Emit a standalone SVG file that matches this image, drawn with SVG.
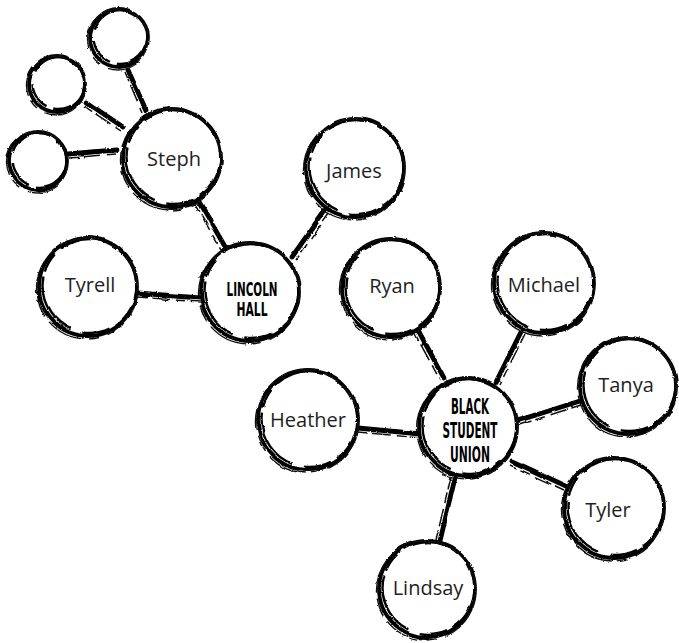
<svg xmlns="http://www.w3.org/2000/svg" width="679" height="643" viewBox="0 0 679 643">
<defs>
<filter id="rough" x="-10%" y="-10%" width="120%" height="120%">
<feTurbulence type="fractalNoise" baseFrequency="0.045" numOctaves="2" seed="3" result="n1"/>
<feDisplacementMap in="SourceGraphic" in2="n1" scale="3" xChannelSelector="R" yChannelSelector="G" result="d1"/>
<feTurbulence type="fractalNoise" baseFrequency="0.8" numOctaves="1" seed="7" result="n2"/>
<feDisplacementMap in="d1" in2="n2" scale="2.4" xChannelSelector="R" yChannelSelector="G"/>
</filter>
<style>
.ink{filter:url(#rough)}
.r1{fill:#fff;stroke:#000;stroke-width:3.8}
.r2{fill:none;stroke:#000;stroke-width:2.4;stroke-dasharray:46 7 28 12 64 5 20 9}
.r3{fill:none;stroke:#111;stroke-width:1.4;stroke-dasharray:18 6 34 9 10 5 40 7}
.c1{fill:none;stroke:#000;stroke-width:4.8;stroke-linecap:round}
.c2{fill:none;stroke:#111;stroke-width:1.5;stroke-dasharray:10 4 18 6}
.name{font-family:"Open Sans","Noto Sans","Liberation Sans",sans-serif;font-weight:400;font-size:20px;fill:#1e1e1e;text-anchor:middle}
.hub{font-family:"DejaVu Sans Condensed","DejaVu Sans","Liberation Sans",sans-serif;font-weight:bold;font-size:19px;fill:#000;text-anchor:middle}
</style>
</defs>
<rect width="679" height="643" fill="#fff"/>
<g id="connectors" class="ink">
<path class="c1" d="M128,70 L146,110"/><path class="c2" d="M125,72 L142,112"/>
<path class="c1" d="M86,102 L123,127"/><path class="c2" d="M84,106 L121,131"/>
<path class="c1" d="M68,154 L116,150"/><path class="c2" d="M69,158 L116,154"/>
<path class="c1" d="M198,200 L227,250"/><path class="c2" d="M194,202 L222,252"/>
<path class="c1" d="M325,210 L292,257"/><path class="c2" d="M329,213 L296,260"/>
<path class="c1" d="M138,293 L200,298"/><path class="c2" d="M138,297 L200,302"/>
<path class="c1" d="M418,330 L444,378"/><path class="c2" d="M414,332 L440,380"/>
<path class="c1" d="M521,332 L496,382"/><path class="c2" d="M525,334 L500,384"/>
<path class="c1" d="M580,401 L514,422"/><path class="c2" d="M581,405 L516,426"/>
<path class="c1" d="M358,428 L420,434"/><path class="c2" d="M358,432 L420,438"/>
<path class="c1" d="M566,486 L512,461"/><path class="c2" d="M564,490 L510,465"/>
<path class="c1" d="M440,541 L455,478"/><path class="c2" d="M436,540 L451,477"/>
</g>
<g id="node-small-top" class="ink"><circle class="r1" cx="119" cy="38" r="29"/><circle class="r2" cx="120.5" cy="37" r="27"/><circle class="r3" cx="118" cy="39.5" r="30.5"/></g>
<g id="node-small-mid" class="ink"><circle class="r1" cx="57" cy="84" r="28"/><circle class="r2" cx="58.5" cy="83" r="26"/><circle class="r3" cx="56" cy="85.5" r="29.5"/></g>
<g id="node-small-low" class="ink"><circle class="r1" cx="38" cy="161" r="29"/><circle class="r2" cx="39.5" cy="160" r="27"/><circle class="r3" cx="37" cy="162.5" r="30.5"/></g>
<g id="node-steph"><g class="ink"><circle class="r1" cx="172" cy="158" r="49"/><circle class="r2" cx="173.5" cy="157" r="47"/><circle class="r3" cx="171" cy="159.5" r="50.5"/></g><text class="name" x="174" y="166">Steph</text></g>
<g id="node-james"><g class="ink"><circle class="r1" cx="355" cy="168" r="49"/><circle class="r2" cx="356.5" cy="167" r="47"/><circle class="r3" cx="354" cy="169.5" r="50.5"/></g><text class="name" x="354" y="178">James</text></g>
<g id="node-tyrell"><g class="ink"><circle class="r1" cx="88" cy="287" r="49"/><circle class="r2" cx="89.5" cy="286" r="47"/><circle class="r3" cx="87" cy="288.5" r="50.5"/></g><text class="name" x="90" y="292">Tyrell</text></g>
<g id="node-lincoln-hall"><g class="ink"><circle class="r1" cx="250" cy="292" r="49"/><circle class="r2" cx="251.5" cy="291" r="47"/><circle class="r3" cx="249" cy="293.5" r="50.5"/></g><text class="hub" x="252" y="296" textLength="51" lengthAdjust="spacingAndGlyphs">LINCOLN</text><text class="hub" x="252" y="316" textLength="31" lengthAdjust="spacingAndGlyphs">HALL</text></g>
<g id="node-ryan"><g class="ink"><circle class="r1" cx="391" cy="288" r="49"/><circle class="r2" cx="392.5" cy="287" r="47"/><circle class="r3" cx="390" cy="289.5" r="50.5"/></g><text class="name" x="392" y="293">Ryan</text></g>
<g id="node-michael"><g class="ink"><circle class="r1" cx="544" cy="283" r="50"/><circle class="r2" cx="545.5" cy="282" r="48"/><circle class="r3" cx="543" cy="284.5" r="51.5"/></g><text class="name" x="544" y="292">Michael</text></g>
<g id="node-tanya"><g class="ink"><circle class="r1" cx="628" cy="386" r="48"/><circle class="r2" cx="629.5" cy="385" r="46"/><circle class="r3" cx="627" cy="387.5" r="49.5"/></g><text class="name" x="626" y="392">Tanya</text></g>
<g id="node-black-student-union"><g class="ink"><circle class="r1" cx="468" cy="427" r="49"/><circle class="r2" cx="469.5" cy="426" r="47"/><circle class="r3" cx="467" cy="428.5" r="50.5"/></g><text class="hub" x="470" y="414" textLength="38" lengthAdjust="spacingAndGlyphs" style="font-size:21px">BLACK</text><text class="hub" x="470" y="438" textLength="55" lengthAdjust="spacingAndGlyphs" style="font-size:21px">STUDENT</text><text class="hub" x="470" y="462" textLength="40" lengthAdjust="spacingAndGlyphs" style="font-size:21px">UNION</text></g>
<g id="node-heather"><g class="ink"><circle class="r1" cx="308" cy="420" r="50"/><circle class="r2" cx="309.5" cy="419" r="48"/><circle class="r3" cx="307" cy="421.5" r="51.5"/></g><text class="name" x="308" y="427">Heather</text></g>
<g id="node-tyler"><g class="ink"><circle class="r1" cx="614" cy="508" r="50"/><circle class="r2" cx="615.5" cy="507" r="48"/><circle class="r3" cx="613" cy="509.5" r="51.5"/></g><text class="name" x="608" y="517">Tyler</text></g>
<g id="node-lindsay"><g class="ink"><circle class="r1" cx="427" cy="589" r="48"/><circle class="r2" cx="428.5" cy="588" r="46"/><circle class="r3" cx="426" cy="590.5" r="49.5"/></g><text class="name" x="428" y="595">Lindsay</text></g>
</svg>
